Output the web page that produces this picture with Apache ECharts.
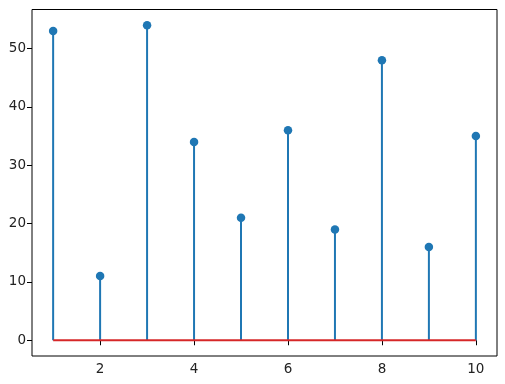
<!DOCTYPE html>
<html><head><meta charset="utf-8">
<script src="https://cdn.jsdelivr.net/npm/echarts@6/dist/echarts.min.js"></script>
<style>html,body{margin:0;padding:0;background:#fff}#c{width:505px;height:384px}</style>
</head><body><div id="c"></div>
<script>
const xs = [1,2,3,4,5,6,7,8,9,10];
const ys = [53,11,54,34,21,36,19,48,16,35];
const xTicks = [2,4,6,8,10];
const yTicks = [0,10,20,30,40,50];

const pts = xs.map((x,i)=>[x, ys[i]]);
const chart = echarts.init(document.getElementById('c'), null, {renderer:'canvas'});
const font = {fontFamily:'DejaVu Sans', fontSize:13.5, color:'#222'};
chart.setOption({
  animation:false,
  grid:{left:32, right:8, top:9.5, bottom:28, show:true, borderColor:'#000', borderWidth:1, backgroundColor:'transparent'},
  xAxis:{type:'value', min:0.55, max:10.45,
    axisLine:{show:false}, splitLine:{show:false},
    axisTick:{show:true, length:5, inside:false, customValues:xTicks, lineStyle:{color:'#000'}},
    axisLabel:Object.assign({customValues:xTicks, margin:6}, font)},
  yAxis:{type:'value', min:-2.7, max:56.7,
    axisLine:{show:false}, splitLine:{show:false},
    axisTick:{show:true, length:5, inside:false, customValues:yTicks, lineStyle:{color:'#000'}},
    axisLabel:Object.assign({customValues:yTicks, margin:6}, font)},
  series:[
    {type:'custom', renderItem:function(params, api){
        const a = api.coord([api.value(0), 0]);
        const b = api.coord([api.value(0), api.value(1)]);
        return {type:'line', shape:{x1:a[0], y1:a[1], x2:b[0], y2:b[1]}, style:{stroke:'#1f77b4', lineWidth:2}};
      }, data:pts, z:2},
    {type:'line', data:[[xs[0],0],[xs[xs.length-1],0]], symbol:'none', lineStyle:{color:'#d62728', width:2}, z:3},
    {type:'scatter', data:pts, symbol:'circle', symbolSize:8.5, itemStyle:{color:'#1f77b4', opacity:1}, z:4}
  ]
});
</script></body></html>
